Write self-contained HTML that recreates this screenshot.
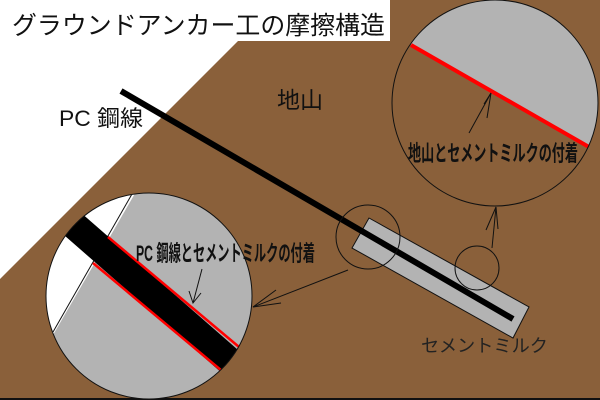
<!DOCTYPE html>
<html><head><meta charset="utf-8"><style>
html,body{margin:0;padding:0;background:#fff}
svg{display:block}
text{font-family:"Liberation Sans","Noto Sans CJK JP",sans-serif}
</style></head><body>
<svg width="600" height="400" viewBox="0 0 600 400" xmlns="http://www.w3.org/2000/svg">
<defs>
<clipPath id="cl"><circle cx="149" cy="296" r="103"/></clipPath>
<clipPath id="cr"><circle cx="495" cy="103" r="103"/></clipPath>
</defs>
<rect width="600" height="400" fill="#8a603a"/>
<polygon points="0,0 279,0 0,279" fill="#fff"/>
<rect x="0" y="398" width="600" height="2" fill="#111"/>
<rect x="0" y="0" width="390" height="41" fill="#fff"/>
<text x="12" y="34" font-size="25" fill="#111" textLength="373" lengthAdjust="spacingAndGlyphs">グラウンドアンカー工の摩擦構造</text>
<text x="59" y="126" font-size="22" fill="#111" textLength="84" lengthAdjust="spacingAndGlyphs">PC 鋼線</text>
<text x="277" y="108" font-size="23" fill="#111">地山</text>
<polygon points="369,218 529,307 513,338 352,248" fill="#b3b3b3" stroke="#111" stroke-width="1"/>
<line x1="121" y1="91" x2="513" y2="319" stroke="#000" stroke-width="6"/>
<text x="421" y="352" font-size="18" fill="#222" textLength="127" lengthAdjust="spacingAndGlyphs">セメントミルク</text>
<circle cx="368" cy="237" r="32" fill="none" stroke="#111" stroke-width="1"/>
<circle cx="477" cy="268" r="22" fill="none" stroke="#111" stroke-width="1"/>
<line x1="348" y1="270" x2="253" y2="307" stroke="#111" stroke-width="1"/>
<polyline points="276,290 253,307 281,303" fill="none" stroke="#111" stroke-width="1"/>
<line x1="492" y1="248" x2="496" y2="207" stroke="#111" stroke-width="1"/>
<polyline points="486,230 496,207 498,229" fill="none" stroke="#111" stroke-width="1"/>
<g clip-path="url(#cl)">
<rect x="40" y="190" width="220" height="215" fill="#b3b3b3"/>
<polygon points="40,190 137,190 53,335 40,335" fill="#fff"/>
<line x1="132" y1="194" x2="53" y2="332" stroke="#111" stroke-width="1"/>
<line x1="60" y1="213" x2="242" y2="372" stroke="#000" stroke-width="28"/>
<line x1="108" y1="237" x2="245" y2="352" stroke="#f00" stroke-width="2.5"/>
<line x1="93" y1="263" x2="228" y2="376" stroke="#f00" stroke-width="2.5"/>
</g>
<circle cx="149" cy="296" r="103" fill="none" stroke="#111" stroke-width="1"/>
<text x="136" y="261" font-size="22" font-weight="bold" fill="#111" textLength="179" lengthAdjust="spacingAndGlyphs">PC 鋼線とセメントミルクの付着</text>
<line x1="202" y1="269" x2="193" y2="303" stroke="#111" stroke-width="1"/>
<polyline points="189,291 193,303 201,293" fill="none" stroke="#111" stroke-width="1"/>
<g clip-path="url(#cr)">
<rect x="390" y="0" width="210" height="210" fill="#8a603a"/>
<polygon points="380,27 600,153 600,-5 380,-5" fill="#b3b3b3"/>
<line x1="411" y1="45" x2="589" y2="147" stroke="#f00" stroke-width="4"/>
</g>
<circle cx="495" cy="103" r="103" fill="none" stroke="#111" stroke-width="1"/>
<text x="408" y="161" font-size="22" font-weight="bold" fill="#111" textLength="170" lengthAdjust="spacingAndGlyphs">地山とセメントミルクの付着</text>
<line x1="469" y1="133" x2="491" y2="93" stroke="#111" stroke-width="1"/>
<polyline points="484,104 491,93 487,118" fill="none" stroke="#111" stroke-width="1"/>
</svg>
</body></html>
